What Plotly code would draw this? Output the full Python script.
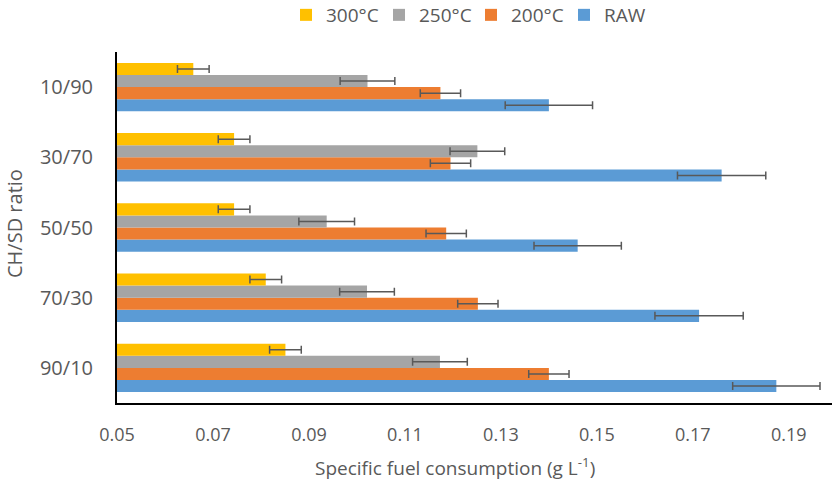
import plotly.graph_objects as go

categories = ["10/90", "30/70", "50/50", "70/30", "90/10"]
series_names = ["RAW", "200°C", "250°C", "300°C"]
raw_vals = [0.1400, 0.1760, 0.1460, 0.1713, 0.1874]
c200_vals = [0.1174, 0.1195, 0.1186, 0.1252, 0.1400]
c250_vals = [0.1022, 0.1251, 0.0937, 0.1021, 0.1173]
c300_vals = [0.0659, 0.0744, 0.0744, 0.0810, 0.0851]
raw_err = [0.0091, 0.0092, 0.0091, 0.0092, 0.0091]
c200_err = [0.0042, 0.0042, 0.0042, 0.0042, 0.0042]
c250_err = [0.0057, 0.0057, 0.0058, 0.0057, 0.0057]
c300_err = [0.0033, 0.0033, 0.0033, 0.0033, 0.0033]
colors = ["#5B9BD5", "#ED7D31", "#A5A5A5", "#FFC000"]
x_ticks = [0.05, 0.07, 0.09, 0.11, 0.13, 0.15, 0.17, 0.19]

values = [raw_vals, c200_vals, c250_vals, c300_vals]
errors = [raw_err, c200_err, c250_err, c300_err]

FONT = "Open Sans"
GRAY = "#595959"

legend_ids = ["legend", "legend2", "legend3", "legend4"]
legend_x_px = [564, 471, 379, 286]  # left edge of each legend entry (container px)

fig = go.Figure()
for name, vals, errs, col, lid in zip(series_names, values, errors, colors, legend_ids):
    fig.add_trace(go.Bar(
        y=categories, x=vals, name=name, orientation="h",
        marker=dict(color=col, line=dict(width=0)),
        error_x=dict(type="data", array=errs, visible=True,
                     color="#595959", thickness=1.5, width=4),
        legend=lid,
    ))

legend_layout = {}
for lid, px in zip(legend_ids, legend_x_px):
    legend_layout[lid] = dict(
        orientation="h", xref="container", yref="container",
        x=px / 834, xanchor="left", y=1 - 15 / 487, yanchor="middle",
        font=dict(size=19, color=GRAY), itemwidth=30,
        bgcolor="rgba(0,0,0,0)",
    )

fig.update_layout(
    width=834, height=487,
    paper_bgcolor="white", plot_bgcolor="white",
    margin=dict(l=117, r=2, t=52, b=84, autoexpand=False),
    barmode="group", bargap=0.31, bargroupgap=0,
    font=dict(family=FONT, color=GRAY, size=18),
    showlegend=True,
    annotations=[
        dict(text="Specific fuel consumption (g L<sup>-1</sup>)",
             xref="paper", yref="paper", x=(455 - 117) / 715, y=-64 / 351,
             xanchor="center", yanchor="middle", showarrow=False,
             font=dict(size=19, color=GRAY)),
        dict(text="CH/SD ratio", textangle=-90,
             xref="paper", yref="paper", x=-(117 - 14) / 715, y=(403 - 224) / 351,
             xanchor="center", yanchor="middle", showarrow=False,
             font=dict(size=20, color=GRAY)),
    ],
    **legend_layout,
)
fig.update_xaxes(
    range=[0.05, 0.199], tickvals=x_ticks,
    ticktext=[f"{t:.2f}" for t in x_ticks],
    showgrid=False, zeroline=False, automargin=False,
    showline=True, linecolor="black", linewidth=2,
    ticks="", ticklabelstandoff=14,
    tickfont=dict(size=18, color=GRAY),
)
fig.update_yaxes(
    categoryorder="array", categoryarray=categories[::-1],
    showgrid=False, zeroline=False, automargin=False,
    showline=True, linecolor="black", linewidth=2,
    ticks="", ticklabelstandoff=18,
    tickfont=dict(size=20, color=GRAY),
)

fig.write_html("out.html", config={"displayModeBar": False},
               post_script="document.body.style.margin='0';")
